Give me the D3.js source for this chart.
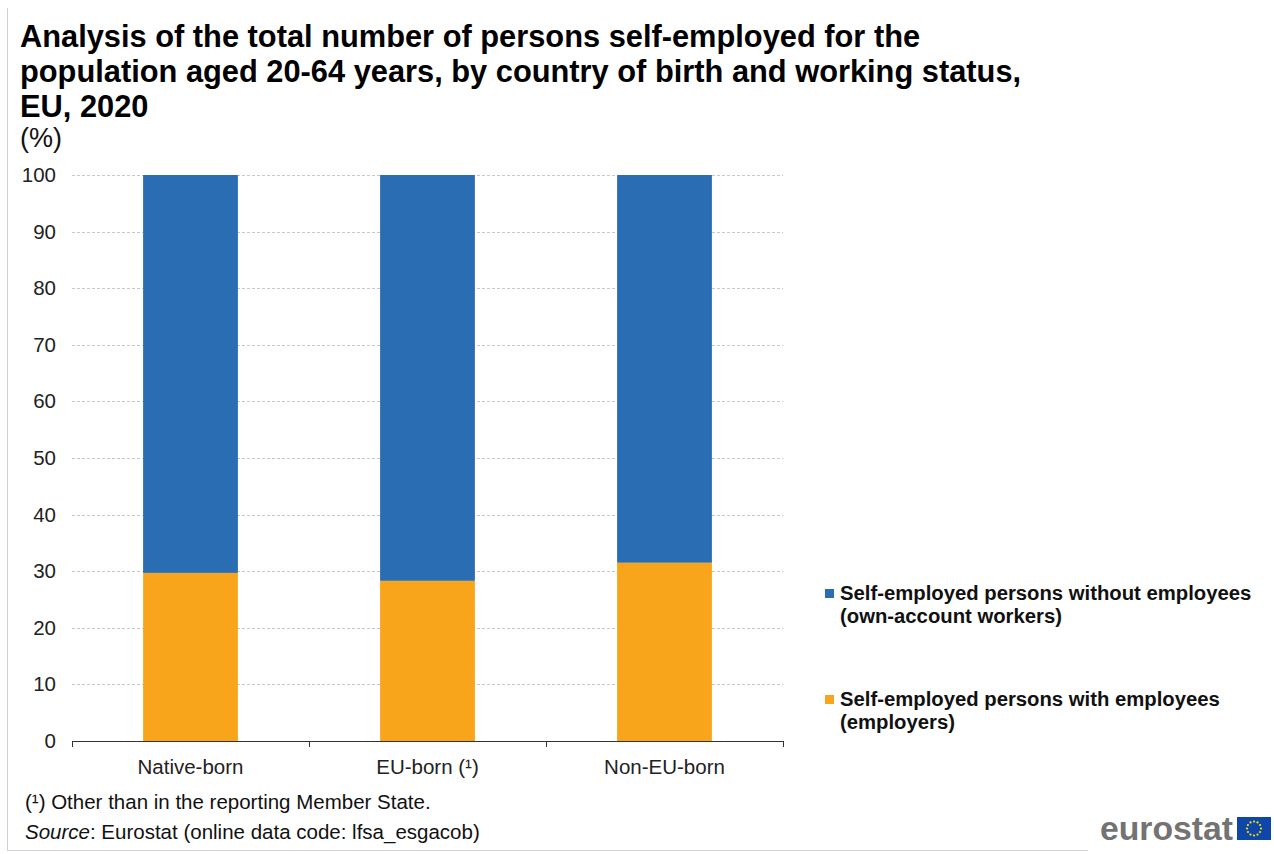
<!DOCTYPE html>
<html>
<head>
<meta charset="utf-8">
<script src="https://cdn.jsdelivr.net/npm/d3@7"></script>
<style>
  html, body { margin: 0; padding: 0; background: #fff; }
  svg { display: block; font-family: "Liberation Sans", Arial, sans-serif; }
</style>
</head>
<body>
<svg id="chart" width="1274" height="854"></svg>
<script>
// Country-of-birth groups
const categories = ["Native-born", "EU-born (\u00B9)", "Non-EU-born"];
// Share of self-employed persons (%)
const employers = [29.7, 28.3, 31.5];          // with employees
const ownAccount = [70.3, 71.7, 68.5];         // without employees
const yTicks = [0, 10, 20, 30, 40, 50, 60, 70, 80, 90, 100];

const seriesNames = [
  ["Self-employed persons without employees", "(own-account workers)"],
  ["Self-employed persons with employees", "(employers)"]
];
const colors = { ownAccount: "#2a6db3", employers: "#f9a51b" };

const titleLines = [
  "Analysis of the total number of persons self-employed for the",
  "population aged 20-64 years, by country of birth and working status,",
  "EU, 2020"
];
const footnotes = ["(\u00B9) Other than in the reporting Member State."];

const svg = d3.select("#chart");

// Frame lines (left and bottom)
svg.append("line").attr("x1", 7.5).attr("x2", 7.5).attr("y1", 8).attr("y2", 850.5)
  .attr("stroke", "#d2d2d2").attr("stroke-width", 1);
svg.append("line").attr("x1", 7).attr("x2", 1088).attr("y1", 850.5).attr("y2", 850.5)
  .attr("stroke", "#d2d2d2").attr("stroke-width", 1);

// Title
titleLines.forEach((t, i) => {
  svg.append("text").attr("x", 20).attr("y", 47 + i * 35)
    .attr("font-size", 30.8).attr("font-weight", "bold").attr("fill", "#000").text(t);
});
svg.append("text").attr("x", 20).attr("y", 147).attr("font-size", 27)
  .attr("fill", "#111").text("(%)");

// Scales
const y = d3.scaleLinear().domain([0, 100]).range([741, 175]);
const x = d3.scaleBand().domain(categories).range([72, 783])
  .paddingInner(0.6).paddingOuter(0.3);

// Gridlines
svg.append("g").selectAll("line").data(yTicks.filter(d => d > 0)).join("line")
  .attr("x1", 72).attr("x2", 783)
  .attr("y1", d => Math.round(y(d)) + 0.5).attr("y2", d => Math.round(y(d)) + 0.5)
  .attr("stroke", "#c8c8c8").attr("stroke-width", 1).attr("stroke-dasharray", "3,2");

// Y axis labels
const yAxis = svg.append("g").attr("transform", "translate(56,0)")
  .call(d3.axisLeft(y).tickValues(yTicks).tickSize(0).tickPadding(0));
yAxis.select(".domain").remove();
yAxis.selectAll("text").attr("font-size", 20.5).attr("fill", "#222")
  .attr("font-family", "Liberation Sans, Arial, sans-serif");

// Stacked bars
const rows = categories.map((c, i) => ({ cat: c, employers: employers[i], ownAccount: ownAccount[i] }));
const stack = d3.stack().keys(["employers", "ownAccount"])(rows);
svg.append("g").selectAll("g").data(stack).join("g")
  .attr("fill", d => colors[d.key])
  .selectAll("rect").data(d => d).join("rect")
  .attr("x", d => x(d.data.cat))
  .attr("width", x.bandwidth())
  .attr("y", d => y(d[1]))
  .attr("height", d => y(d[0]) - y(d[1]));

// X axis
const xAxis = svg.append("g").attr("transform", "translate(0,741)")
  .call(d3.axisBottom(x).tickSize(0));
xAxis.select(".domain").attr("stroke", "#333").attr("d", "M72.5,0.5H783.5");
xAxis.selectAll("text").attr("font-size", 20.5).attr("fill", "#222")
  .attr("font-family", "Liberation Sans, Arial, sans-serif")
  .attr("y", 33).attr("dy", 0);
const boundaries = [x.range()[0]].concat(categories.map(c => x(c) - x.step() * x.paddingInner() / 2 + x.step()));
boundaries[boundaries.length - 1] = x.range()[1];
xAxis.selectAll(".sep").data(boundaries).join("line").attr("class", "sep")
  .attr("x1", d => Math.round(d) + 0.5).attr("x2", d => Math.round(d) + 0.5)
  .attr("y1", 0).attr("y2", 6).attr("stroke", "#333");

// Legend
const legend = svg.append("g");
const legendColors = [colors.ownAccount, colors.employers];
const legendY = [600, 706];
seriesNames.forEach((lines, i) => {
  legend.append("rect").attr("x", 825).attr("y", legendY[i] - 11)
    .attr("width", 9).attr("height", 9).attr("fill", legendColors[i]);
  lines.forEach((l, j) => {
    legend.append("text").attr("x", 840).attr("y", legendY[i] + j * 23)
      .attr("font-size", 20.3).attr("font-weight", "bold").attr("fill", "#111").text(l);
  });
});

// Footnotes
svg.append("text").attr("x", 25).attr("y", 809).attr("font-size", 20.5).attr("fill", "#111")
  .text(footnotes[0]);
const src = svg.append("text").attr("x", 25).attr("y", 839).attr("font-size", 20.5).attr("fill", "#111");
src.append("tspan").attr("font-style", "italic").text("Source");
src.append("tspan").text(": Eurostat (online data code: lfsa_esgacob)");

// Eurostat logo
svg.append("text").attr("x", 1100).attr("y", 840).attr("font-size", 33).attr("font-weight", "bold")
  .attr("fill", "#737373").attr("textLength", 133).attr("lengthAdjust", "spacingAndGlyphs").text("eurostat");
const flag = svg.append("g").attr("transform", "translate(1237,817)");
flag.append("rect").attr("width", 34).attr("height", 23).attr("fill", "#0e47a8");
d3.range(12).forEach(k => {
  const a = k / 12 * 2 * Math.PI;
  flag.append("circle").attr("cx", 17 + 7 * Math.cos(a)).attr("cy", 11.5 + 7 * Math.sin(a))
    .attr("r", 1.1).attr("fill", "#ffdd00");
});
</script>
</body>
</html>
